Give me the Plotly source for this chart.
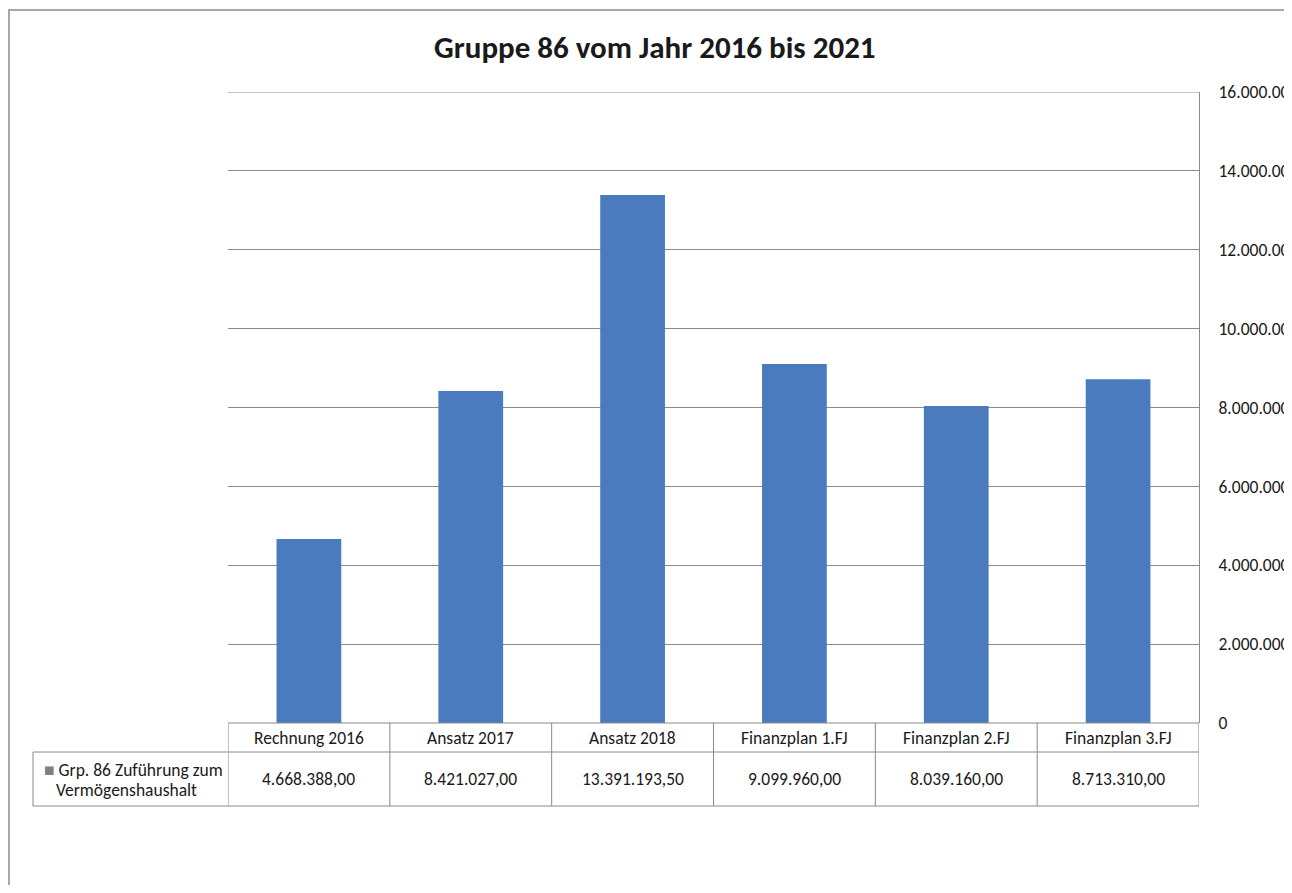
import plotly.graph_objects as go

categories = ["Rechnung 2016", "Ansatz 2017", "Ansatz 2018",
              "Finanzplan 1.FJ", "Finanzplan 2.FJ", "Finanzplan 3.FJ"]
values = [4668388.00, 8421027.00, 13391193.50, 9099960.00, 8039160.00, 8713310.00]
series_name_lines = ["Grp. 86 Zuführung zum", "Vermögenshaushalt"]
title_text = "Gruppe 86 vom Jahr 2016 bis 2021"
y_ticks = [0, 2000000, 4000000, 6000000, 8000000, 10000000, 12000000, 14000000, 16000000]


def de_fmt(v):
    s = f"{v:,.2f}"
    return s.replace(",", "X").replace(".", ",").replace("X", ".")


FONT = "Carlito, Lato, sans-serif"
TXT = "#1a1a1a"
GRID = "#8a8a8a"
FS = 17.5

W, H = 1284, 877
ML, MT, MB = 220, 84, 162
PW = 971
MR = W - ML - PW
PH = H - MT - MB


def py(page_y):
    # page y (pixel) -> paper y
    return ((H - MB) - (page_y - 8)) / PH


def px(page_x):
    return ((page_x - 8) - ML) / PW


fig = go.Figure()
fig.add_trace(go.Bar(
    x=categories, y=values, width=0.4,
    marker=dict(color="#4a7bbf", line=dict(width=0)),
    showlegend=False, hoverinfo="skip"))

shapes = []
annotations = []

# outer chart frame (partly cut off)
shapes.append(dict(type="rect", xref="paper", yref="paper",
                   x0=px(9), x1=px(1340), y0=py(920), y1=py(10),
                   line=dict(color="#8c8c8c", width=1.5), layer="below"))

# top gridline at axis maximum
shapes.append(dict(type="line", xref="paper", yref="y", x0=0, x1=1,
                   y0=y_ticks[-1], y1=y_ticks[-1], line=dict(color=GRID, width=1)))

# data table lines
y_top, y_mid, y_bot = py(723), py(752), py(806)
shapes.append(dict(type="line", xref="paper", yref="paper", x0=0, x1=1, y0=y_top, y1=y_top,
                   line=dict(color=GRID, width=1)))
for yy in (y_mid, y_bot):
    shapes.append(dict(type="line", xref="paper", yref="paper", x0=px(33), x1=1, y0=yy, y1=yy,
                       line=dict(color=GRID, width=1)))
shapes.append(dict(type="line", xref="paper", yref="paper", x0=px(33), x1=px(33), y0=y_bot, y1=y_mid,
                   line=dict(color=GRID, width=1)))
for i in range(len(categories) + 1):
    shapes.append(dict(type="line", xref="x", yref="paper", x0=i - 0.5, x1=i - 0.5,
                       y0=y_bot, y1=y_top, line=dict(color=GRID, width=1)))

for c, v in zip(categories, values):
    annotations.append(dict(x=c, xref="x", y=(y_top + y_mid) / 2, yref="paper",
                            text=c, showarrow=False, font=dict(family=FONT, size=FS, color=TXT),
                            xanchor="center", yanchor="middle"))
    annotations.append(dict(x=c, xref="x", y=(y_mid + y_bot) / 2, yref="paper",
                            text=de_fmt(v), showarrow=False, font=dict(family=FONT, size=FS, color=TXT),
                            xanchor="center", yanchor="middle"))

annotations.append(dict(x=px(42), xref="paper", y=py(770), yref="paper",
                        text="<span style='color:#7f7f7f'>■</span> " + series_name_lines[0],
                        showarrow=False, font=dict(family=FONT, size=FS, color=TXT),
                        xanchor="left", yanchor="middle"))
annotations.append(dict(x=px(126), xref="paper", y=py(790), yref="paper",
                        text=series_name_lines[1],
                        showarrow=False, font=dict(family=FONT, size=FS, color=TXT),
                        xanchor="center", yanchor="middle"))

annotations.append(dict(x=px(655), xref="paper", y=py(47), yref="paper",
                        text="<b>" + title_text + "</b>", showarrow=False,
                        font=dict(family=FONT, size=31, color=TXT),
                        xanchor="center", yanchor="middle"))

fig.update_layout(
    width=W, height=H,
    margin=dict(l=ML, r=MR, t=MT, b=MB, pad=0, autoexpand=False),
    paper_bgcolor="white", plot_bgcolor="white",
    separators=",.",
    shapes=shapes, annotations=annotations,
    xaxis=dict(type="category", range=[-0.5, 5.5], showticklabels=False, automargin=False,
               showgrid=False, zeroline=False, showline=False, ticks=""),
    yaxis=dict(side="right", range=[0, 16000000], tickvals=y_ticks, tickformat=",d",
               automargin=False,
               showgrid=True, gridcolor=GRID, gridwidth=1, zeroline=False,
               showline=True, linecolor=GRID, linewidth=1, ticks="",
               ticklabelstandoff=15,
               tickfont=dict(family=FONT, size=FS, color=TXT)),
    font=dict(family=FONT, color=TXT),
)

fig.write_html("out.html")
